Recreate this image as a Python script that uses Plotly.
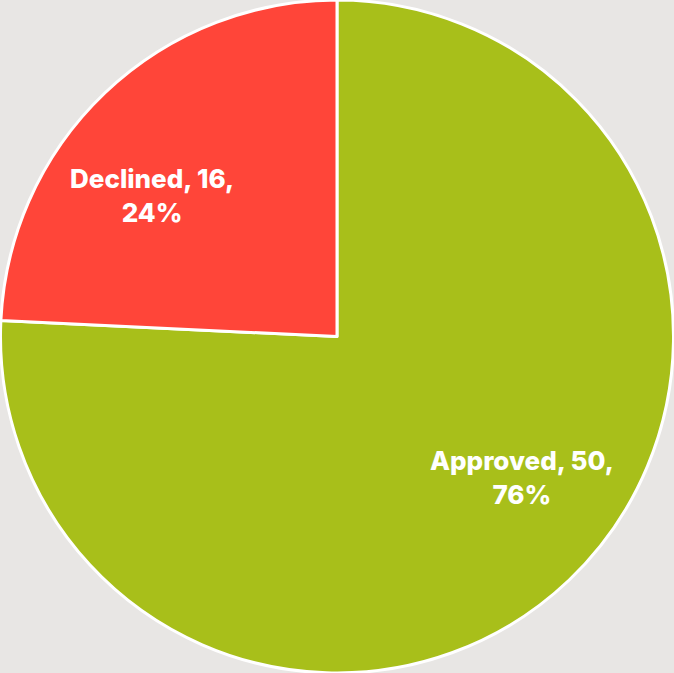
import math
import plotly.graph_objects as go

labels = ["Approved", "Declined"]
values = [50, 16]
colors = ["#a8bf1a", "#ff4539"]

W, H = 674, 673
LABEL_R = 0.69       # label distance from centre, as a fraction of the radius
LABEL_SHIFT = 9      # degrees the labels sit counter-clockwise of the slice middle


def main():
    fig = go.Figure(
        go.Pie(
            labels=labels,
            values=values,
            sort=False,
            direction="clockwise",
            rotation=0,
            marker=dict(colors=colors, line=dict(color="white", width=3)),
            textinfo="none",
            hoverinfo="label+value+percent",
            showlegend=False,
        )
    )

    # labels placed by hand so they sit where the original ones do
    total = sum(values)
    radius = min(W, H) / 2
    start = 0.0
    for lab, val in zip(labels, values):
        frac = val / total
        mid = math.radians((start + frac / 2) * 360 - LABEL_SHIFT)
        start += frac
        dx = math.sin(mid) * radius * LABEL_R
        dy = math.cos(mid) * radius * LABEL_R
        fig.add_annotation(
            x=0.5 + dx / W, y=0.5 + dy / H,
            xref="paper", yref="paper",
            text=f"{lab}, {val},<br>{frac:.0%}",
            showarrow=False, align="center",
            xanchor="center", yanchor="middle",
            font=dict(family="Inter", size=26, color="white", weight=800),
        )

    fig.update_layout(
        width=W,
        height=H,
        margin=dict(l=0, r=0, t=0, b=0),
        paper_bgcolor="#e8e6e4",
        plot_bgcolor="#e8e6e4",
    )

    fig.write_html(
        "out.html",
        config={"displayModeBar": False},
        post_script="document.body.style.margin='0';",
    )


if __name__ == "__main__":
    main()
